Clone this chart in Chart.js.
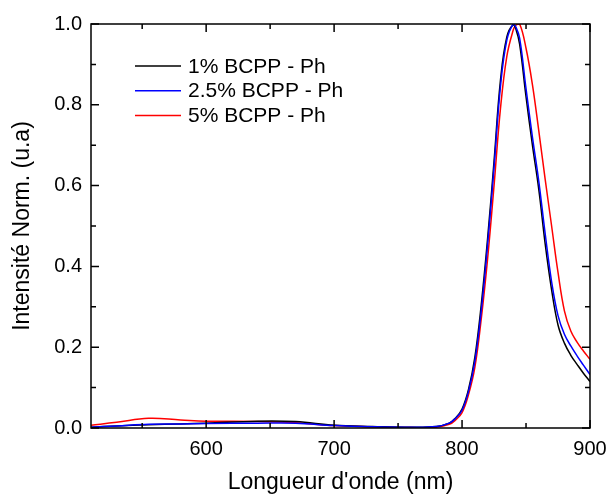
<!DOCTYPE html>
<html>
<head>
<meta charset="utf-8">
<script src="https://cdn.jsdelivr.net/npm/chart.js@4/dist/chart.umd.min.js"></script>
<style>
    html, body { margin: 0; padding: 0; background: #fff; }
    #wrap { width: 608px; height: 496px; }
</style>
</head>
<body>
<div id="wrap"><canvas id="chart" width="608" height="496"></canvas></div>
<script>
// Longueur d'onde (nm)
const wavelengths = [510, 530, 555, 580, 600, 640, 670, 700, 730, 760, 780, 790, 795, 800, 805, 810, 815, 820, 825, 830,
    835, 840, 842, 845, 850, 855, 860, 865, 870, 875, 880, 885, 890, 895, 900];

// Intensité normalisée, une liste par échantillon
const bcpp1 = [0.002, 0.005, 0.008, 0.010, 0.012, 0.017, 0.016, 0.007, 0.004, 0.002, 0.004, 0.012, 0.025, 0.047, 0.095, 0.175, 0.305, 0.47, 0.66, 0.86,
    0.968, 0.998, 0.988, 0.95, 0.82, 0.70, 0.59, 0.455, 0.342, 0.255, 0.21, 0.18, 0.157, 0.135, 0.115];
const bcpp25 = [0.002, 0.005, 0.009, 0.010, 0.011, 0.012, 0.012, 0.006, 0.003, 0.002, 0.004, 0.012, 0.024, 0.044, 0.09, 0.165, 0.29, 0.455, 0.645, 0.845,
    0.96, 1.0, 0.993, 0.965, 0.84, 0.72, 0.61, 0.48, 0.362, 0.278, 0.232, 0.203, 0.178, 0.155, 0.132];
const bcpp5 = [0.007, 0.014, 0.024, 0.020, 0.017, 0.016, 0.013, 0.006, 0.003, 0.001, 0.002, 0.009, 0.020, 0.038, 0.082, 0.15, 0.27, 0.42, 0.60, 0.79,
    0.92, 0.985, 0.997, 1.0, 0.94, 0.85, 0.735, 0.615, 0.50, 0.385, 0.29, 0.24, 0.212, 0.19, 0.17];

const seriesLabels = ['1% BCPP - Ph', '2.5% BCPP - Ph', '5% BCPP - Ph'];
const seriesColors = ['#000000', '#0000ff', '#ff0000'];

const xTicks = [550, 600, 650, 700, 750, 800, 850, 900];
const yTicks = [0, 0.1, 0.2, 0.3, 0.4, 0.5, 0.6, 0.7, 0.8, 0.9, 1.0];

const FONT = 'Liberation Sans, Arial, sans-serif';

function toPoints(values) {
    return wavelengths.map((w, i) => ({ x: w, y: values[i] }));
}

// cadre + graduations vers l'intérieur sur les quatre côtés
const frameTicks = {
    id: 'frameTicks',
    afterDatasetsDraw(chart) {
        const { ctx, chartArea: a, scales: { x, y } } = chart;
        ctx.save();
        ctx.strokeStyle = '#000';
        ctx.lineWidth = 1.5;
        ctx.strokeRect(a.left, a.top, a.right - a.left, a.bottom - a.top);
        ctx.beginPath();
        xTicks.forEach(v => {
            const px = x.getPixelForValue(v);
            const len = v % 100 === 0 ? 8 : 5;
            ctx.moveTo(px, a.bottom);
            ctx.lineTo(px, a.bottom - len);
            ctx.moveTo(px, a.top);
            ctx.lineTo(px, a.top + len);
        });
        yTicks.forEach((v, i) => {
            const py = y.getPixelForValue(v);
            const len = i % 2 === 0 ? 8 : 5;
            ctx.moveTo(a.left, py);
            ctx.lineTo(a.left + len, py);
            ctx.moveTo(a.right, py);
            ctx.lineTo(a.right - len, py);
        });
        ctx.stroke();
        ctx.restore();
    }
};

// légende dans la zone du graphique
const insideLegend = {
    id: 'insideLegend',
    afterDatasetsDraw(chart) {
        const { ctx, chartArea: a } = chart;
        ctx.save();
        ctx.font = '21px ' + FONT;
        ctx.textBaseline = 'middle';
        seriesLabels.forEach((label, i) => {
            const yPos = a.top + 42 + i * 24.7;
            ctx.strokeStyle = seriesColors[i];
            ctx.lineWidth = 1.5;
            ctx.beginPath();
            ctx.moveTo(a.left + 44, yPos);
            ctx.lineTo(a.left + 90, yPos);
            ctx.stroke();
            ctx.fillStyle = '#000';
            ctx.fillText(label, a.left + 97, yPos + 1);
        });
        ctx.restore();
    }
};

const datasets = [bcpp1, bcpp25, bcpp5].map((values, i) => ({
    label: seriesLabels[i],
    data: toPoints(values),
    borderColor: seriesColors[i],
    borderWidth: 1.5,
    pointRadius: 0,
    fill: false,
    tension: 0.4,
    order: [1, 0, 2][i]
}));

new Chart(document.getElementById('chart').getContext('2d'), {
    type: 'line',
    data: { datasets },
    options: {
        responsive: false,
        animation: false,
        devicePixelRatio: 1,
        layout: { padding: { top: 24, right: 18, left: 0, bottom: 0 } },
        plugins: { legend: { display: false }, tooltip: { enabled: false } },
        scales: {
            x: {
                type: 'linear',
                min: 510,
                max: 900,
                afterBuildTicks: scale => { scale.ticks = xTicks.map(v => ({ value: v })); },
                afterFit: scale => {
                    scale.height = 68;
                    scale.paddingLeft = 0;
                    scale.paddingRight = 0;
                },
                grid: { display: false, drawTicks: false },
                border: { display: false },
                ticks: {
                    padding: 9,
                    color: '#000',
                    font: { family: FONT, size: 20 },
                    maxRotation: 0,
                    autoSkip: false,
                    callback: v => (v % 100 === 0 ? String(v) : '')
                },
                title: {
                    display: true,
                    text: "Longueur d'onde (nm)",
                    color: '#000',
                    font: { family: FONT, size: 23 },
                    padding: { top: 0, bottom: 0 }
                }
            },
            y: {
                min: 0,
                max: 1,
                afterBuildTicks: scale => { scale.ticks = yTicks.map(v => ({ value: v })); },
                afterFit: scale => {
                    scale.width = 91;
                    scale.paddingTop = 0;
                    scale.paddingBottom = 0;
                },
                grid: { display: false, drawTicks: false },
                border: { display: false },
                ticks: {
                    padding: 9,
                    color: '#000',
                    font: { family: FONT, size: 20 },
                    autoSkip: false,
                    callback: v => (Math.round(v * 10) % 2 === 0 ? v.toFixed(1) : '')
                },
                title: {
                    display: true,
                    text: 'Intensité Norm. (u.a)',
                    color: '#000',
                    font: { family: FONT, size: 23 },
                    padding: { top: 9, bottom: 0 }
                }
            }
        }
    },
    plugins: [frameTicks, insideLegend]
});
</script>
</body>
</html>
